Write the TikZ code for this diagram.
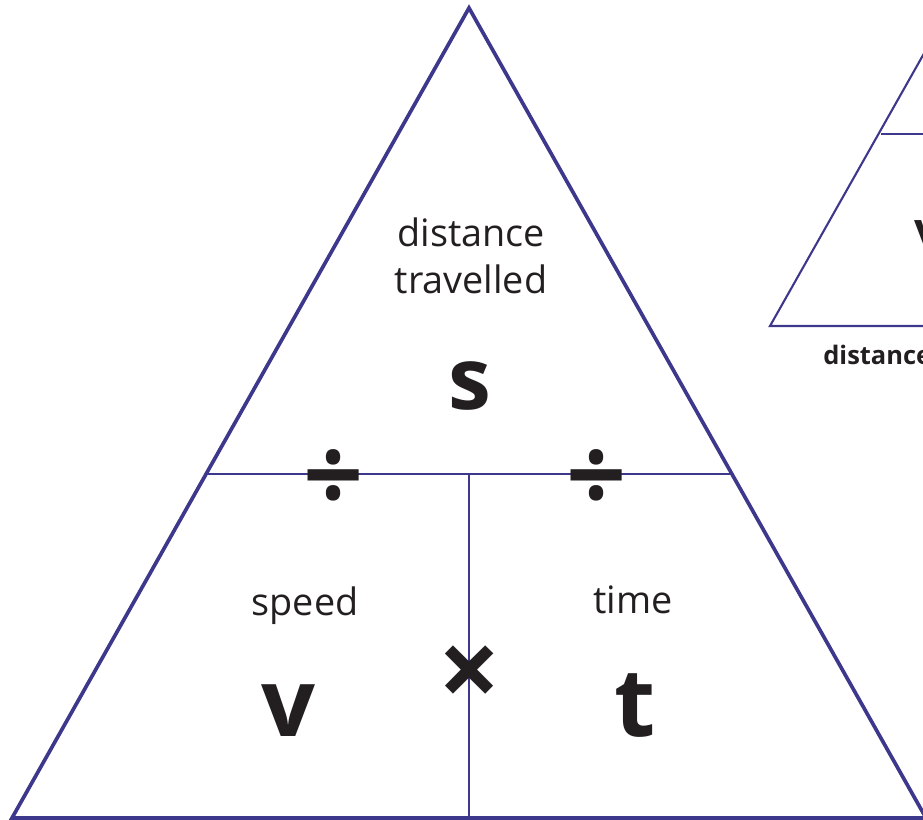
\documentclass[tikz,border=0pt]{standalone}
\usepackage{fontspec}
\setmainfont{Open Sans}
\usetikzlibrary{positioning}
\definecolor{triblue}{RGB}{62,56,140}
\definecolor{ink}{RGB}{35,31,32}

\begin{document}
\begin{tikzpicture}[x=0.02cm, y=-0.02cm,
  outline/.style={triblue, line width=2.1pt, line join=miter},
  divider/.style={triblue, line width=1.2pt},
  word/.style={text=ink, font=\fontsize{21.5}{24}\selectfont, inner sep=0pt, anchor=base},
  qty/.style={text=ink, font=\fontsize{54}{60}\selectfont\bfseries, inner sep=0pt},
  op/.style={text=ink, font=\fontsize{60}{66}\selectfont\bfseries, inner sep=0pt}]
  \useasboundingbox (0,0) rectangle (923,820);
  \clip (0,0) rectangle (923,820);
  % big triangle
  \coordinate (apex) at (469,8);
  \coordinate (bl) at (12,818);
  \coordinate (br) at (926,818);
  \coordinate (ml) at (206,474);
  \coordinate (mr) at (732,474);
  \coordinate (mid) at (469,474);
  \coordinate (bm) at (469,818);
  \draw[divider] (ml) -- (mr);
  \draw[divider] (mid) -- (bm);
  \draw[outline] (apex) -- (bl) -- (br) -- cycle;
  % small triangle, mostly off the page
  \coordinate (sbl) at (770,326);
  \coordinate (stop) at (996,-74);
  \coordinate (sbr) at (1000,326);
  \coordinate (sml) at (881,134);
  \coordinate (smr) at (1000,134);
  \draw[divider] (sbr) -- (sbl) -- (stop);
  \draw[divider] (sml) -- (smr);
  % labels
  \node[word] (dist) at (471,247) {distance};
  \node[word] (trav) at (471,294) {travelled};
  \node[qty, font=\fontsize{49}{54}\selectfont\bfseries] (s) at (470,386) {s};
  \node[word] (speed) at (305,615) {speed};
  \node[word] (time) at (633,613) {time};
  \node[qty] (v) at (288,711) {v};
  \node[qty] (t) at (635,706) {t};
  \node[op] (divl) at (334,481) {÷};
  \node[op] (divr) at (597,481) {÷};
  \node[op, font=\fontsize{62}{68}\selectfont\bfseries] (times) at (470,677) {×};
  \node[qty, font=\fontsize{26}{30}\selectfont\bfseries, anchor=west] (sv) at (914,233) {v};
  \node[word, font=\fontsize{14.5}{17}\selectfont\bfseries, anchor=base west] (sdist) at (823,365) {distance};
\end{tikzpicture}
\end{document}
